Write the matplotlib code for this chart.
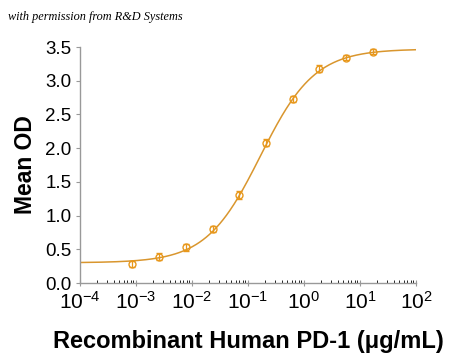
import numpy as np
import matplotlib
matplotlib.use("Agg")
import matplotlib.pyplot as plt
from matplotlib.ticker import LogLocator

plt.rcParams['font.family'] = ['Liberation Sans', 'DejaVu Sans']
plt.rcParams['mathtext.fontset'] = 'custom'
plt.rcParams['mathtext.rm'] = 'Liberation Sans'

# measured points (3-fold dilution series)
conc = [17.0, 5.667, 1.889, 0.6296, 0.2099, 0.06996, 0.02332, 0.007773, 0.002591, 0.0008637]
mean_od = [3.43, 3.34, 3.18, 2.73, 2.08, 1.30, 0.80, 0.53, 0.39, 0.28]
err = [0.04, 0.04, 0.05, 0.05, 0.05, 0.06, 0.04, 0.05, 0.05, 0.04]

# 4PL fit parameters for the curve
bottom, top, ec50, hill = 0.30, 3.47, 0.167, 0.895

line_col = '#D9962E'
pt_col = '#E8981C'

fig = plt.figure(figsize=(4.5, 3.59), dpi=100)
ax = fig.add_axes([80 / 450, 1 - 283 / 359, (416 - 80) / 450, (283 - 47) / 359])

xs = np.logspace(-4, 2, 400)
ys = bottom + (top - bottom) / (1 + (ec50 / xs) ** hill)
ax.plot(xs, ys, color=line_col, lw=1.1, zorder=2)
ax.errorbar(conc, mean_od, yerr=err, fmt='o', mfc='none', mec=pt_col, ms=5, mew=1.0,
            ecolor=pt_col, elinewidth=0.9, capsize=2.5, capthick=0.9, zorder=3)

ax.set_xscale('log')
ax.set_xlim(1e-4, 1e2)
ax.set_ylim(0, 3.5)
yt = np.arange(0, 3.51, 0.5)
ax.set_yticks(yt)
ax.set_yticklabels([f"{v:.1f}" for v in yt])
ax.xaxis.set_major_locator(LogLocator(base=10, numticks=10))
ax.xaxis.set_minor_locator(LogLocator(base=10, subs=np.arange(2, 10), numticks=10))

for s in ['top', 'right']:
    ax.spines[s].set_visible(False)
for s in ['left', 'bottom']:
    ax.spines[s].set_color('#999999')
    ax.spines[s].set_linewidth(1.0)

ax.tick_params(axis='both', colors='#999999', labelcolor='black')
ax.tick_params(axis='y', direction='out', length=3, width=0.8, pad=3, labelsize=13.5)
ax.tick_params(axis='x', which='major', direction='inout', length=4, width=0.8, pad=4, labelsize=15)
ax.tick_params(axis='x', which='minor', direction='in', length=2, width=0.6)

ax.set_ylabel('Mean OD', fontsize=16.5, fontweight='bold', labelpad=6)
ax.set_xlabel('Recombinant Human PD-1 (\u03bcg/mL)', fontsize=17, fontweight='bold', labelpad=12)

fig.text(8 / 450, 1 - 17 / 359, 'with permission from R&D Systems', fontsize=8.8,
         family=['Liberation Serif', 'DejaVu Serif'], style='italic', va='center', ha='left')

fig.savefig('out.png', dpi=100)
